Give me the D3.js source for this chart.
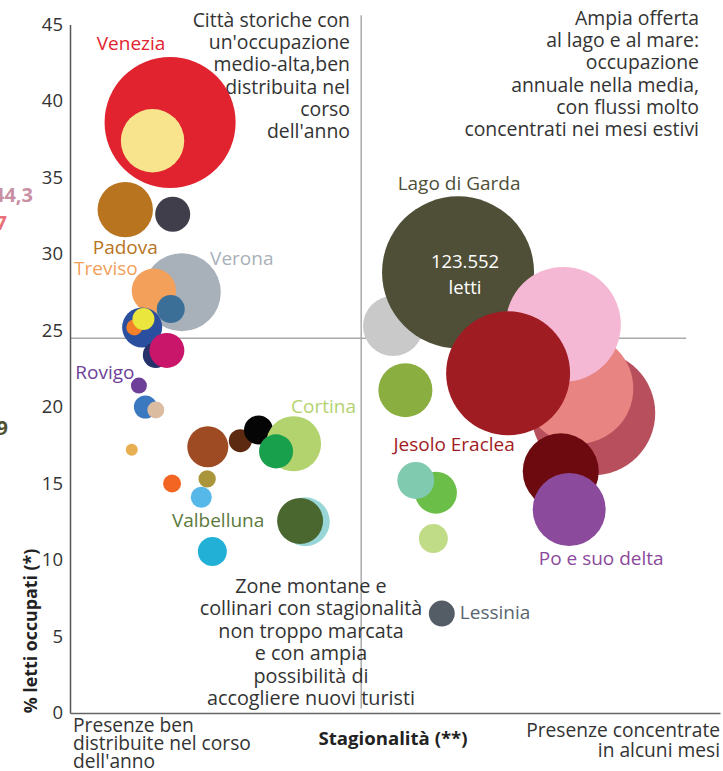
<!DOCTYPE html>
<html><head><meta charset="utf-8">
<script src="https://cdn.jsdelivr.net/npm/d3@7"></script>
<style>
html,body{margin:0;padding:0;background:#fff;}
svg{display:block;font-family:"Open Sans",sans-serif;}
</style></head><body>
<svg id="chart" width="723" height="771"></svg>
<script>
// ---------- DATA ----------
const zoneIds = ["Venezia","z02","Padova","z04","Verona","Treviso","z07","z08","z09","z10","z11","z12","Rovigo","z14","z15","z16","z17","z18","z19","Cortina","z21","z22","z23","z24","z25","Valbelluna","z27","z28","Lago di Garda","z30","z31","z32","Jesolo Eraclea","z34","Po e suo delta","z36","z37","z38","z39","Lessinia"];
// seasonality index (x, arbitrary units 0-100)
const seasonality = [15.4,12.7,8.5,15.8,17.2,12.9,15.5,11.1,9.9,11.3,13.2,14.9,10.6,11.6,13.2,9.5,21.2,26.2,29.0,34.4,31.7,15.7,21.1,20.2,36.2,35.4,21.9,49.7,59.7,80.5,78.2,75.9,67.4,75.5,76.8,51.6,56.3,53.2,55.9,57.2];
// % beds occupied (y)
const occupancy = [38.6,37.4,32.9,32.6,27.5,27.6,26.4,25.2,25.2,25.75,23.4,23.7,21.4,20.0,19.8,17.2,17.4,17.8,18.5,17.6,17.1,15.0,15.3,14.1,12.5,12.55,10.55,25.3,28.8,19.6,21.2,25.4,22.2,15.8,13.3,21.1,14.4,15.2,11.4,6.5];
// number of beds (bubble area)
const beds = [91800,21500,16400,6550,32500,10500,4200,8560,1370,2590,3600,6550,1370,2830,1550,770,9000,2830,4500,16200,6200,1730,1600,2360,12800,11300,4500,19300,123552,82200,64700,70700,82200,30900,28500,15600,9400,7300,4500,3600];
const zoneColors = ["#E1232F","#F9E48E","#B8741E","#403E4A","#A8B0B9","#F2A05A","#3B6F97","#2A4F9E","#F4802A","#EAE63E","#243269","#C9166A","#6E3F98","#3A78C0","#DBBCA0","#E8AE52","#9E4A22","#5C2A10","#050505","#B3D36F","#19A04C","#F26522","#AA953B","#56B8E9","#98D6D8","#4B6730","#22B0D6","#C9C9C9","#4F4F38","#B84F5C","#E88482","#F5B8D4","#A01C23","#6C0A10","#8B4A9B","#8AAE3F","#6BBE47","#80CAB0","#C1DC87","#545D66"];

const yTicks = [0,5,10,15,20,25,30,35,40,45];
const meanOccupancy = 24.5;
const meanSeasonality = 44.8;

const labelNames = ["Venezia","Padova","Treviso","Verona","Rovigo","Cortina","Valbelluna","Lago di Garda","Jesolo Eraclea","Po e suo delta","Lessinia"];
const labelColors = ["#E1232F","#B8741E","#F2A05A","#A8B0B9","#6E3F98","#B3D36F","#5B7A3C","#4F4F38","#A01C23","#8B4A9B","#5A6470"];
const gardaBeds = ["123.552","letti"];

const noteCities = ["Città storiche con","un'occupazione","medio-alta,ben","distribuita nel","corso","dell'anno"];
const noteCoast = ["Ampia offerta","al lago e al mare:","occupazione","annuale nella media,","con flussi molto","concentrati nei mesi estivi"];
const noteMountain = ["Zone montane e","collinari con stagionalità","non troppo marcata","e con ampia","possibilità di","accogliere nuovi turisti"];
const xLowNote = ["Presenze ben","distribuite nel corso","dell'anno"];
const xHighNote = ["Presenze concentrate","in alcuni mesi"];
const yTitle = "% letti occupati (*)";
const xTitle = "Stagionalità (**)";
const edgeLabels = ["44,3","7","9"];
const edgeColors = ["#C98FA2","#E8707A","#4E5232"];

// ---------- LAYOUT ----------
const labelLayout = {
  "Venezia":[-39,-72,"middle"],"Padova":[0,44,"middle"],"Treviso":[-48,-16,"middle"],
  "Verona":[60,-27,"middle"],"Rovigo":[-34,-7,"middle"],"Cortina":[30,-31,"middle"],
  "Valbelluna":[-82,6,"middle"],"Lago di Garda":[1,-82,"middle"],"Jesolo Eraclea":[-54,78,"middle"],
  "Po e suo delta":[32,55,"middle"],"Lessinia":[18,5,"start"]
};
const edgeLayout = [[33,202],[7,230],[8,435]];

const svg = d3.select("#chart");
svg.append("rect").attr("width",723).attr("height",771).attr("fill","#fff");

const x = d3.scaleLinear().domain([0,100]).range([70,720]);
const y = d3.scaleLinear().domain([0,45]).range([713,24.5]);
const r = d3.scaleSqrt().domain([0,123552]).range([0,76]);

const FS = 18.5;
const NFS = 19.4;
const textColor = "#333";

// mean lines
svg.append("line").attr("x1",x(0)).attr("x2",x(94.8)).attr("y1",y(meanOccupancy)).attr("y2",y(meanOccupancy))
  .attr("stroke","#AAAAAA").attr("stroke-width",1.5);
svg.append("line").attr("x1",x(meanSeasonality)).attr("x2",x(meanSeasonality)).attr("y1",y(45.6)).attr("y2",y(0.3))
  .attr("stroke","#AAAAAA").attr("stroke-width",1.5);

// notes
function block(lines, xp, y0, dy, anchor, size, weight){
  const t = svg.append("text").attr("font-size",size).attr("fill",textColor).attr("text-anchor",anchor).attr("font-weight",weight||"normal");
  lines.forEach((l,i)=>t.append("tspan").attr("x",xp).attr("y",y0+i*dy).text(l));
  return t;
}
block(noteCities,350,27,22.2,"end",NFS);
block(noteCoast,699,25,22.2,"end",NFS);
block(noteMountain,311,593,22.4,"middle",19.8);
block(xLowNote,73,732,18,"start",19.2);
block(xHighNote,720,737,20,"end",19.2);

// bubbles
const data = zoneIds.map((id,i)=>({id, sx:seasonality[i], oc:occupancy[i], b:beds[i], c:zoneColors[i]}));
svg.append("g").selectAll("circle").data(data).join("circle")
  .attr("cx",d=>x(d.sx)).attr("cy",d=>y(d.oc)).attr("r",d=>r(d.b)).attr("fill",d=>d.c);

// axes
const yAxis = svg.append("g").attr("transform",`translate(${x(0)},0)`)
  .call(d3.axisLeft(y).tickValues(yTicks).tickSize(0).tickPadding(7).tickFormat(d3.format("d")));
yAxis.select(".domain").attr("stroke","#555").attr("stroke-width",1.5);
yAxis.selectAll("text").attr("font-size",FS).attr("fill",textColor).attr("font-family","Open Sans");
const xAxis = svg.append("g").attr("transform",`translate(0,${y(0)})`)
  .call(d3.axisBottom(x).tickValues([]).tickSizeOuter(0));
xAxis.select(".domain").attr("stroke","#666").attr("stroke-width",1.5);

// labels
labelNames.forEach((n,i)=>{
  const d = data.find(e=>e.id===n);
  const L = labelLayout[n];
  svg.append("text").attr("x",x(d.sx)+L[0]).attr("y",y(d.oc)+L[1]).attr("text-anchor",L[2])
    .attr("font-size",FS+0.5).attr("fill",labelColors[i]).text(n);
});
const g = data.find(e=>e.id==="Lago di Garda");
gardaBeds.forEach((t,i)=>svg.append("text").attr("x",x(g.sx)+7).attr("y",y(g.oc)-4+i*26)
  .attr("text-anchor","middle").attr("font-size",FS).attr("fill","#fff").text(t));

// titles
svg.append("text").attr("transform","translate(37,631) rotate(-90)").attr("text-anchor","middle")
  .attr("font-size",17.8).attr("font-weight","bold").attr("fill","#222").text(yTitle);
svg.append("text").attr("x",393).attr("y",745).attr("text-anchor","middle")
  .attr("font-size",18.6).attr("font-weight","bold").attr("fill","#222").text(xTitle);

// cut-off edge labels
edgeLabels.forEach((t,i)=>svg.append("text").attr("x",edgeLayout[i][0]).attr("y",edgeLayout[i][1])
  .attr("text-anchor","end").attr("font-size",20).attr("font-weight","bold").attr("fill",edgeColors[i]).text(t));
</script>
</body></html>
